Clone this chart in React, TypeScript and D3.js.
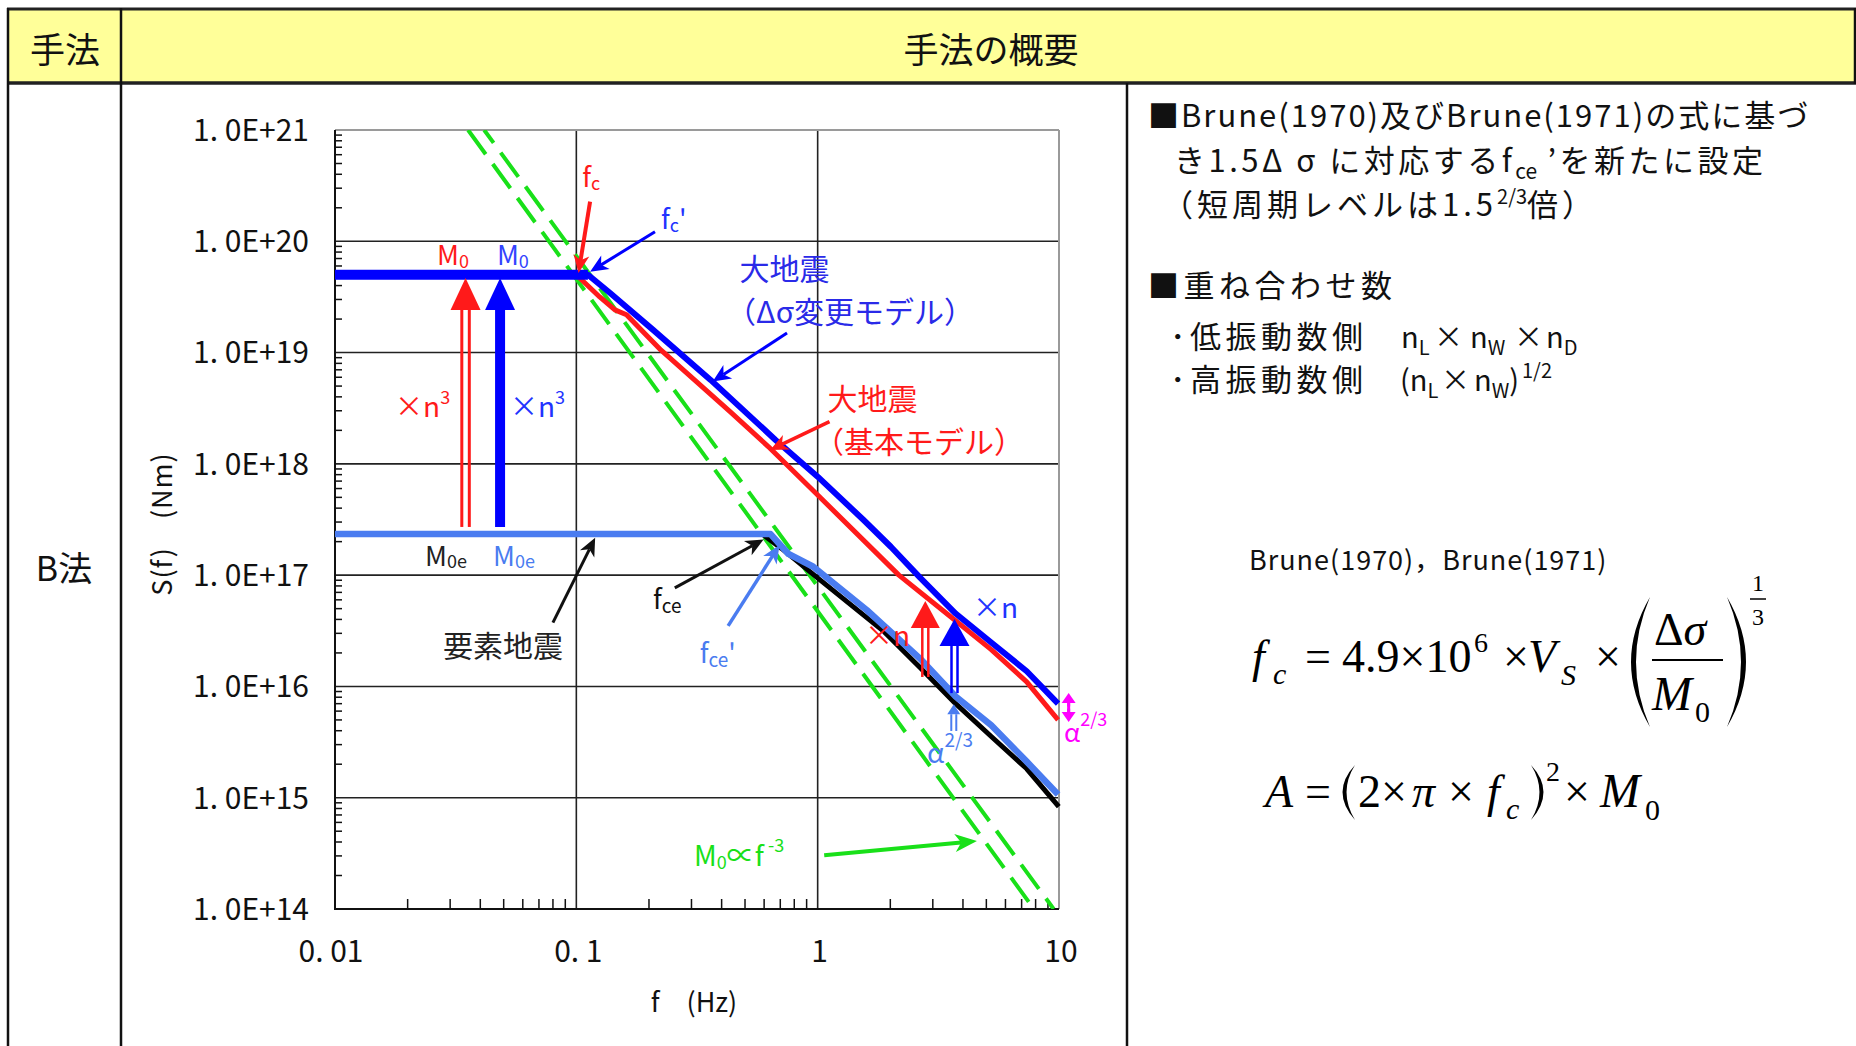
import React from "react";
import * as d3 from "d3";

const W = 1856;
const H = 1046;

// axis ticks
const xTickValues = [0.01, 0.1, 1, 10];
const xTickLabels = ["0. 01", "0. 1", "1", "10"];
const yTickValues = [1e14, 1e15, 1e16, 1e17, 1e18, 1e19, 1e20, 1e21];
const yTickLabels = ["1. 0E+14", "1. 0E+15", "1. 0E+16", "1. 0E+17", "1. 0E+18", "1. 0E+19", "1. 0E+20", "1. 0E+21"];

// source spectra S(f) in Nm
// large earthquake, delta-sigma changed model (blue)
const bigModF = [0.01, 0.1117, 0.138, 0.208, 0.36, 0.669, 1.0, 1.55, 2.01, 2.65, 3.73, 5.24, 7.35, 9.91];
const bigModS = [5.0e19, 5.0e19, 3.43e19, 1.6e19, 5.68e18, 1.64e18, 7.67e17, 3.13e17, 1.8e17, 9.55e16, 4.52e16, 2.48e16, 1.37e16, 7.0e15];
// large earthquake, basic model (red)
const bigBaseF = [0.01, 0.1, 0.125, 0.1445, 0.1614, 0.2244, 0.4335, 0.624, 1.0, 2.17, 3.73, 5.24, 7.35, 9.91];
const bigBaseS = [5.0e19, 5.0e19, 3.16e19, 2.42e19, 2.19e19, 1.05e19, 2.95e18, 1.43e18, 5.25e17, 1.0e17, 3.89e16, 2.14e16, 1.1e16, 5.0e15];
// element earthquake, delta-sigma changed (light blue)
const elemModF = [0.01, 0.638, 0.757, 0.959, 1.596, 2.655, 3.73, 5.24, 7.35, 9.91];
const elemModS = [2.34e17, 2.34e17, 1.55e17, 1.19e17, 4.86e16, 1.78e16, 8.13e15, 4.47e15, 2.11e15, 1.07e15];
// element earthquake (black)
const elemF = [0.01, 0.589, 0.708, 0.993, 1.89, 2.655, 3.73, 5.24, 7.35, 9.98];
const elemS = [2.34e17, 2.34e17, 1.74e17, 9.55e16, 3.09e16, 1.48e16, 7.0e15, 3.55e15, 1.82e15, 8.3e14];
// M0 ∝ f^-3 guide lines (green dashed)
const guide1F = [0.0356, 7.87];
const guide2F = [0.0415, 9.5];
const guideS = [1e21, 1e14];

const JP = "'Noto Sans CJK JP', 'Noto Sans', sans-serif";
const SERIF = "'Liberation Serif', 'DejaVu Serif', serif";

const RED = "#ff1a1a";
const BLUE = "#0000ff";
const LBLUE = "#4a7cf0";
const GREEN = "#19e019";
const MAG = "#ff00ff";

const x = d3.scaleLog().domain([0.01, 10]).range([335, 1059]);
const y = d3.scaleLog().domain([1e14, 1e21]).range([909, 130]);
// position from log10 values
const p = (lf: number, ls: number): [number, number] => [x(10 ** lf), y(10 ** ls)];

const zip = (f: number[], s: number[]) => f.map((v, i) => [v, s[i]] as [number, number]);
const line = d3
  .line<[number, number]>()
  .x(d => x(d[0]))
  .y(d => y(d[1]));

function Barb({ a, b, color, w = 3, len = 18, hw = 8 }: any) {
  const [x1, y1] = a;
  const [x2, y2] = b;
  const dx = x2 - x1, dy = y2 - y1;
  const L = Math.hypot(dx, dy);
  const ux = dx / L, uy = dy / L, nx = -uy, ny = ux;
  const bx = x2 - ux * len, by = y2 - uy * len;
  const mx = x2 - ux * len * 0.72, my = y2 - uy * len * 0.72;
  const pts = [
    [x2, y2],
    [bx + nx * hw, by + ny * hw],
    [mx, my],
    [bx - nx * hw, by - ny * hw]
  ];
  return (
    <g>
      <line x1={x1} y1={y1} x2={mx} y2={my} stroke={color} strokeWidth={w} />
      <polygon points={pts.map(q => q.join(",")).join(" ")} fill={color} />
    </g>
  );
}

function UpArrow({ xc, yb, yt, color, kind, sw = 10, gap = 7.5, lw = 3, hl = 32, hwid = 30 }: any) {
  return (
    <g>
      {kind === "solid" ? (
        <line x1={xc} y1={yb} x2={xc} y2={yt + hl} stroke={color} strokeWidth={sw} />
      ) : (
        <g>
          <line x1={xc - gap / 2} y1={yb} x2={xc - gap / 2} y2={yt + hl} stroke={color} strokeWidth={lw} />
          <line x1={xc + gap / 2} y1={yb} x2={xc + gap / 2} y2={yt + hl} stroke={color} strokeWidth={lw} />
        </g>
      )}
      <polygon points={`${xc},${yt} ${xc - hwid / 2},${yt + hl} ${xc + hwid / 2},${yt + hl}`} fill={color} />
    </g>
  );
}

function Chart() {
  const minor: number[] = [];
  for (let e = -2; e < 1; e++) for (let k = 2; k <= 9; k++) minor.push(k * 10 ** e);
  const minorY: number[] = [];
  for (let e = 14; e < 21; e++) for (let k = 2; k <= 9; k++) minorY.push(k * 10 ** e);

  const [x0, x1] = x.range();
  const [y0, y1] = y.range();

  const m0 = bigModS[0];
  const lab = { fontFamily: JP, fontSize: 27 };

  return (
    <g>
      <defs>
        <clipPath id="plot">
          <rect x={x0} y={y1} width={x1 - x0} height={y0 - y1} />
        </clipPath>
      </defs>
      {/* grid */}
      {yTickValues.slice(1, -1).map(v => (
        <line key={v} x1={x0} x2={x1} y1={y(v)} y2={y(v)} stroke="#222" strokeWidth={1.6} />
      ))}
      {xTickValues.slice(1, -1).map(v => (
        <line key={v} x1={x(v)} x2={x(v)} y1={y1} y2={y0} stroke="#222" strokeWidth={1.6} />
      ))}
      <line x1={x0} x2={x1} y1={y1} y2={y1} stroke="#9a9a9a" strokeWidth={2} />
      <line x1={x1} x2={x1} y1={y1} y2={y0} stroke="#9a9a9a" strokeWidth={2} />
      <line x1={x0} x2={x0} y1={y1} y2={y0 + 1} stroke="#111" strokeWidth={2} />
      <line x1={x0} x2={x1} y1={y0} y2={y0} stroke="#111" strokeWidth={2} />
      {minorY.map(v => (
        <line key={v} x1={x0} x2={x0 + 7} y1={y(v)} y2={y(v)} stroke="#111" strokeWidth={1.5} />
      ))}
      {minor.map(v => (
        <line key={v} x1={x(v)} x2={x(v)} y1={y0} y2={y0 - 10} stroke="#111" strokeWidth={1.5} />
      ))}

      {/* tick labels */}
      {yTickValues.map((v, i) => (
        <text key={v} x={309} y={y(v)} dy="0.36em" textAnchor="end" fontFamily={JP} fontSize={30} fill="#111">
          {yTickLabels[i]}
        </text>
      ))}
      {xTickValues.map((v, i) => (
        <text key={v} x={x(v) + (i === 0 ? -4 : 2)} y={962} textAnchor="middle" fontFamily={JP} fontSize={30} fill="#111">
          {xTickLabels[i]}
        </text>
      ))}
      <text x={694} y={1012} textAnchor="middle" fontFamily={JP} fontSize={27} fill="#111">
        f　(Hz)
      </text>
      <text transform="translate(172,524) rotate(-90)" textAnchor="middle" fontFamily={JP} fontSize={27} fill="#111" letterSpacing={1}>
        S(f)　(Nm)
      </text>

      {/* guides */}
      <g clipPath="url(#plot)">
        <path d={line(zip(guide1F, guideS)) || ""} stroke={GREEN} strokeWidth={4} strokeDasharray="30 12" fill="none" />
        <path d={line(zip(guide2F, guideS)) || ""} stroke={GREEN} strokeWidth={4} strokeDasharray="30 12" strokeDashoffset={14} fill="none" />
      </g>

      {/* spectra */}
      <path d={line(zip(elemF, elemS)) || ""} stroke="#000" strokeWidth={5} fill="none" strokeLinejoin="round" />
      <path d={line(zip(elemModF, elemModS)) || ""} stroke={LBLUE} strokeWidth={6.5} fill="none" strokeLinejoin="round" />
      <path d={line(zip(bigBaseF, bigBaseS)) || ""} stroke={RED} strokeWidth={5} fill="none" strokeLinejoin="round" />
      <path d={line(zip(bigModF, bigModS)) || ""} stroke={BLUE} strokeWidth={6} fill="none" strokeLinejoin="round" />
      <line x1={x0} x2={x(bigModF[1])} y1={y(m0)} y2={y(m0)} stroke={BLUE} strokeWidth={10} />

      {/* x n^3 arrows */}
      <UpArrow xc={p(-1.459, 0)[0]} yb={y(10 ** 17.433)} yt={y(10 ** 19.67)} color={RED} kind="double" />
      <UpArrow xc={p(-1.316, 0)[0]} yb={y(10 ** 17.433)} yt={y(10 ** 19.67)} color={BLUE} kind="solid" />
      <text x={p(-1.577, 0)[0]} y={y(10 ** 19.787)} {...lab} fill={RED}>
        M<tspan fontSize={18} dy={3}>0</tspan>
      </text>
      <text x={p(-1.329, 0)[0]} y={y(10 ** 19.787)} {...lab} fill="#3344ff">
        M<tspan fontSize={18} dy={3}>0</tspan>
      </text>
      <text x={p(-1.751, 0)[0]} y={y(10 ** 18.421)} {...lab} fontSize={28} fill={RED}>
        ×n<tspan fontSize={18} dy={-13}>3</tspan>
      </text>
      <text x={p(-1.275, 0)[0]} y={y(10 ** 18.421)} {...lab} fontSize={28} fill="#2233ff">
        ×n<tspan fontSize={18} dy={-13}>3</tspan>
      </text>
      <text x={p(-1.627, 0)[0]} y={y(10 ** 17.083)} {...lab} fill="#222">
        M<tspan fontSize={18} dy={2}>0e</tspan>
      </text>
      <text x={p(-1.345, 0)[0]} y={y(10 ** 17.083)} {...lab} fill={LBLUE}>
        M<tspan fontSize={18} dy={2}>0e</tspan>
      </text>
      <text x={p(-1.552, 0)[0]} y={y(10 ** 16.265)} fontFamily={JP} fontSize={30} fill="#222">
        要素地震
      </text>
      <Barb a={p(-1.097, 16.574)} b={p(-0.922, 17.336)} color="#111" />

      {/* corner frequencies */}
      <text x={p(-0.976, 0)[0]} y={y(10 ** 20.488)} {...lab} fill={RED}>
        f<tspan fontSize={18} dy={3}>c</tspan>
      </text>
      <Barb a={p(-0.943, 20.356)} b={p(-0.991, 19.715)} color={RED} w={4} />
      <text x={p(-0.649, 0)[0]} y={y(10 ** 20.11)} {...lab} fill="#2233ff">
        f<tspan fontSize={18} dy={3}>c</tspan>
        <tspan dy={-3}>'</tspan>
      </text>
      <Barb a={p(-0.674, 20.086)} b={p(-0.943, 19.727)} color={BLUE} w={3} />

      <text x={p(-0.324, 0)[0]} y={y(10 ** 19.652)} fontFamily={JP} fontSize={30} fill="#2a2ae8">
        大地震
      </text>
      <text x={p(-0.38, 0)[0]} y={y(10 ** 19.266)} fontFamily={JP} fontSize={30} fill="#2a2ae8">
        （Δσ変更モデル）
      </text>
      <Barb a={p(-0.127, 19.176)} b={p(-0.435, 18.739)} color={BLUE} w={3} />
      <text x={p(0.041, 0)[0]} y={y(10 ** 18.484)} fontFamily={JP} fontSize={30} fill={RED}>
        大地震
      </text>
      <text x={p(-0.015, 0)[0]} y={y(10 ** 18.098)} fontFamily={JP} fontSize={30} fill={RED}>
        （基本モデル）
      </text>
      <Barb a={p(0.049, 18.379)} b={p(-0.197, 18.125)} color={RED} w={3.5} />

      <text x={p(-0.682, 0)[0]} y={y(10 ** 16.696)} {...lab} fill="#111">
        f<tspan fontSize={19} dy={4}>ce</tspan>
      </text>
      <Barb a={p(-0.592, 16.885)} b={p(-0.224, 17.32)} color="#111" />
      <text x={p(-0.489, 0)[0]} y={y(10 ** 16.211)} {...lab} fill={LBLUE}>
        f<tspan fontSize={19} dy={4}>ce</tspan>
        <tspan dy={-4}>'</tspan>
      </text>
      <Barb a={p(-0.371, 16.544)} b={p(-0.158, 17.271)} color={LBLUE} w={3.5} />

      {/* x n arrows */}
      <UpArrow xc={p(0.446, 0)[0]} yb={y(10 ** 16.085)} yt={y(10 ** 16.768)} color={RED} kind="double" gap={6} lw={2.5} hl={27} hwid={29} />
      <UpArrow xc={p(0.567, 0)[0]} yb={y(10 ** 15.94)} yt={y(10 ** 16.607)} color={BLUE} kind="double" gap={6} lw={2.5} hl={27} hwid={30} />
      <text x={p(0.196, 0)[0]} y={y(10 ** 16.364)} {...lab} fontSize={28} fill={RED}>
        ×n
      </text>
      <text x={p(0.644, 0)[0]} y={y(10 ** 16.615)} {...lab} fontSize={28} fill="#2233ff">
        ×n
      </text>
      <UpArrow xc={p(0.564, 0)[0]} yb={y(10 ** 15.6)} yt={y(10 ** 15.84)} color={LBLUE} kind="double" gap={5} lw={2} hl={10} hwid={13} />
      <text x={p(0.453, 0)[0]} y={y(10 ** 15.313)} {...lab} fontSize={28} fill={LBLUE}>
        α<tspan fontSize={19} dy={-16}>2/3</tspan>
      </text>
      <g>
        <line x1={p(1.04, 0)[0]} x2={p(1.04, 0)[0]} y1={y(10 ** 15.9)} y2={y(10 ** 15.72)} stroke={MAG} strokeWidth={3} />
        <UpArrow xc={p(1.04, 0)[0]} yb={y(10 ** 15.82)} yt={y(10 ** 15.94)} color={MAG} kind="solid" sw={3} hl={10} hwid={14} />
        <g transform={`translate(0,${y(10 ** 15.94) + y(10 ** 15.68)}) scale(1,-1)`}>
          <UpArrow xc={p(1.04, 0)[0]} yb={y(10 ** 15.82)} yt={y(10 ** 15.94)} color={MAG} kind="solid" sw={3} hl={10} hwid={14} />
        </g>
      </g>
      <text x={p(1.021, 0)[0]} y={y(10 ** 15.5)} {...lab} fontSize={26} fill={MAG}>
        α<tspan fontSize={18} dy={-16}>2/3</tspan>
      </text>

      <text x={p(-0.512, 0)[0]} y={y(10 ** 14.387)} {...lab} fontSize={28} fill={GREEN}>
        M<tspan fontSize={18} dy={3}>0</tspan>
        <tspan dy={-3}>∝f</tspan>
        <tspan fontSize={18} dy={-14}> -3</tspan>
      </text>
      <Barb a={p(0.027, 14.482)} b={p(0.66, 14.612)} color={GREEN} w={4} len={22} hw={9} />
    </g>
  );
}

function Notes() {
  const t = { fontFamily: JP, fill: "#111" };
  const m = { fontFamily: SERIF, fill: "#000" };
  return (
    <g>
      <text x={1148} y={127} {...t} fontSize={31} letterSpacing={2}>
        ■Brune(1970)及びBrune(1971)の式に基づ
      </text>
      <text x={1174} y={172} {...t} fontSize={31} letterSpacing={3.5}>
        き1.5Δ σ に対応するf<tspan fontSize={21} dy={7} letterSpacing={0}>ce</tspan>
        <tspan dy={-7}> ’を新たに設定</tspan>
      </text>
      <text x={1162} y={216} {...t} fontSize={31} letterSpacing={4}>
        （短周期レベルは1.5<tspan fontSize={20} dy={-12} letterSpacing={0}>2/3</tspan>
        <tspan dy={12}>倍）</tspan>
      </text>
      <text x={1148} y={297} {...t} fontSize={31} letterSpacing={4.5}>
        ■重ね合わせ数
      </text>
      <text x={1170} y={348} {...t} fontSize={31} letterSpacing={4.5}>
        ･低振動数側
      </text>
      <text x={1170} y={391} {...t} fontSize={31} letterSpacing={4.5}>
        ･高振動数側
      </text>
      <g {...t} fontSize={29}>
        <text x={1401} y={348}>n<tspan fontSize={20} dy={7}>L</tspan></text>
        <text x={1434} y={348}>×</text>
        <text x={1470} y={348}>n<tspan fontSize={20} dy={7}>W</tspan></text>
        <text x={1514} y={348}>×</text>
        <text x={1546} y={348}>n<tspan fontSize={20} dy={7}>D</tspan></text>
        <text x={1400} y={391}>(n<tspan fontSize={20} dy={7}>L</tspan></text>
        <text x={1441} y={391}>×</text>
        <text x={1474} y={391}>n<tspan fontSize={20} dy={7}>W</tspan><tspan dy={-7}>)</tspan></text>
        <text x={1522} y={378} fontSize={20}>1/2</text>
      </g>

      <text x={1249} y={570} {...t} fontSize={27} letterSpacing={1}>
        Brune(1970)，Brune(1971)
      </text>

      {/* fc formula */}
      <g {...m} fontSize={46}>
        <text x={1252} y={672} fontStyle="italic">f</text>
        <text x={1273} y={684} fontSize={30} fontStyle="italic">c</text>
        <text x={1305} y={672}>=</text>
        <text x={1342} y={672}>4.9×10</text>
        <text x={1474} y={652} fontSize={28}>6</text>
        <text x={1503} y={672}>×</text>
        <text x={1528} y={672} fontStyle="italic">V</text>
        <text x={1561} y={685} fontSize={30} fontStyle="italic">S</text>
        <text x={1595} y={672}>×</text>
        <path d="M1650,597 Q1612,662 1650,727 Q1622,662 1650,597 Z" fill="#000" />
        <path d="M1727,597 Q1765,662 1727,727 Q1755,662 1727,597 Z" fill="#000" />
        <text x={1654} y={645}>Δ<tspan fontStyle="italic">σ</tspan></text>
        <line x1={1652} x2={1723} y1={660} y2={660} stroke="#000" strokeWidth={2.2} />
        <text x={1652} y={710} fontStyle="italic" fontSize={48}>M</text>
        <text x={1695} y={722} fontSize={30}>0</text>
        <text x={1758} y={591} fontSize={24} textAnchor="middle">1</text>
        <line x1={1750} x2={1766} y1={599} y2={599} stroke="#000" strokeWidth={1.5} />
        <text x={1758} y={625} fontSize={24} textAnchor="middle">3</text>
      </g>

      {/* A formula */}
      <g {...m} fontSize={46}>
        <text x={1265} y={807} fontStyle="italic">A</text>
        <text x={1305} y={807}>=</text>
        <path d="M1355,765 Q1330,792 1355,820 Q1338,792 1355,765 Z" fill="#000" />
        <text x={1358} y={807}>2×</text>
        <text x={1412} y={807} fontStyle="italic">π</text>
        <text x={1448} y={807}>×</text>
        <text x={1487} y={807} fontStyle="italic">f</text>
        <text x={1506} y={819} fontSize={30} fontStyle="italic">c</text>
        <path d="M1531,765 Q1556,792 1531,820 Q1548,792 1531,765 Z" fill="#000" />
        <text x={1546} y={781} fontSize={28}>2</text>
        <text x={1564} y={807}>×</text>
        <text x={1600} y={807} fontStyle="italic" fontSize={48}>M</text>
        <text x={1645} y={820} fontSize={30}>0</text>
      </g>
    </g>
  );
}

export default function App() {
  return (
    <svg width={W} height={H} style={{ position: "absolute", left: 0, top: 0, background: "#fff" }}>
      <rect x={0} y={0} width={W} height={H} fill="#fff" />
      {/* table */}
      <rect x={8} y={9} width={1847} height={74} fill="#ffff99" />
      <line x1={7} x2={1856} y1={9} y2={9} stroke="#222" strokeWidth={3} />
      <line x1={7} x2={1856} y1={83} y2={83} stroke="#222" strokeWidth={3.5} />
      <line x1={8} x2={8} y1={8} y2={H} stroke="#111" strokeWidth={2.5} />
      <line x1={121} x2={121} y1={8} y2={H} stroke="#111" strokeWidth={2.5} />
      <line x1={1855} x2={1855} y1={8} y2={84} stroke="#111" strokeWidth={2.5} />
      <line x1={1127} x2={1127} y1={83} y2={H} stroke="#111" strokeWidth={2.5} />
      <text x={65} y={63} textAnchor="middle" fontFamily={JP} fontSize={35} fill="#111">
        手法
      </text>
      <text x={991} y={63} textAnchor="middle" fontFamily={JP} fontSize={35} fill="#111">
        手法の概要
      </text>
      <text x={64} y={581} textAnchor="middle" fontFamily={JP} fontSize={34} fill="#111">
        B法
      </text>
      <Chart />
      <Notes />
    </svg>
  );
}
